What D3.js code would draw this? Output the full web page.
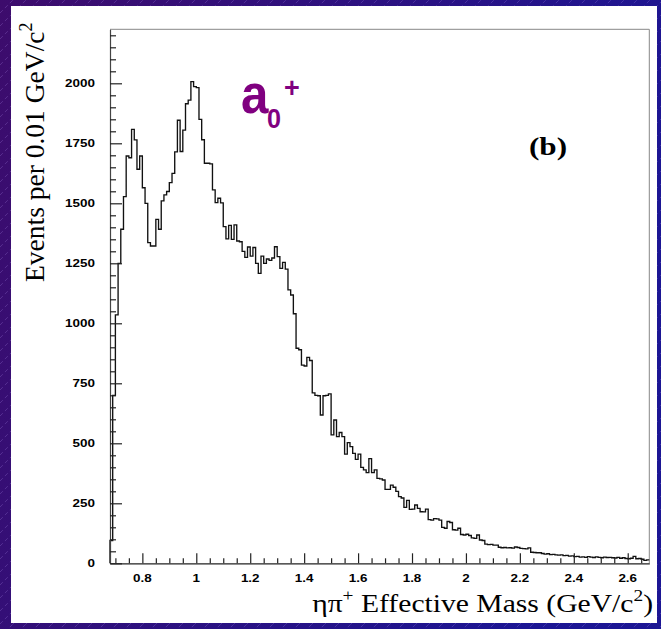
<!DOCTYPE html>
<html><head><meta charset="utf-8">
<script src="https://cdn.jsdelivr.net/npm/d3@7"></script>
<style>html,body{margin:0;padding:0;background:#2a1080;}svg{display:block;}</style>
</head><body>
<svg id="chart" width="661" height="629"></svg>
<script>
// ---- data ----
const binStart = 0.68;      // GeV/c^2, low edge of first bin
const binWidth = 0.01;      // GeV/c^2
const counts = [
  95, 700, 1035, 1250, 1392, 1528, 1697, 1690, 1808, 1764,
  1642, 1697, 1565, 1500, 1336, 1322, 1322, 1433, 1392, 1510,
  1535, 1549, 1586, 1625, 1714, 1846, 1716, 1805, 1915, 1930,
  2007, 1986, 1982, 1850, 1765, 1667, 1667, 1664, 1556, 1503,
  1521, 1502, 1403, 1352, 1408, 1350, 1410, 1343, 1340, 1300,
  1275, 1318, 1280, 1316, 1250, 1208, 1280, 1250, 1268, 1262,
  1272, 1319, 1278, 1229, 1254, 1226, 1139, 1118, 1040, 896,
  890, 826, 822, 858, 845, 710, 700, 698, 618, 698,
  700, 706, 535, 597, 528, 545, 528, 455, 503, 486,
  458, 433, 455, 400, 389, 378, 436, 378, 389, 354,
  352, 347, 308, 308, 326, 317, 300, 278, 272, 233,
  262, 225, 226, 243, 229, 215, 214, 226, 182, 180,
  186, 185, 180, 150, 146, 174, 170, 140, 138, 146,
  120, 118, 121, 116, 106, 104, 118, 97, 95, 80,
  78, 79, 76, 76, 67, 65, 66, 64, 65, 63,
  68, 66, 62, 61, 60, 64, 46, 45, 44, 44,
  41, 38, 40, 36, 37, 35, 34, 35, 32, 33,
  30, 31, 28, 29, 26, 27, 25, 28, 26, 24,
  27, 25, 23, 26, 24, 25, 23, 22, 25, 21,
  23, 20, 19, 21, 29, 19, 20, 17, 12, 14
];
const xMajorTicks = [0.8, 1.0, 1.2, 1.4, 1.6, 1.8, 2.0, 2.2, 2.4, 2.6];
const xTickLabels = ["0.8", "1", "1.2", "1.4", "1.6", "1.8", "2", "2.2", "2.4", "2.6"];
const yMajorTicks = [0, 250, 500, 750, 1000, 1250, 1500, 1750, 2000];
const yTickLabels = ["0", "250", "500", "750", "1000", "1250", "1500", "1750", "2000"];
const xDomain = [0.68, 2.68];
const yDomain = [0, 2225];

// ---- drawing ----
(function () {
const svg = d3.select("#chart");
const W = 661, H = 629;
const defs = svg.append("defs");
const grad = defs.append("linearGradient").attr("id", "bg").attr("x1", "0").attr("y1", "0").attr("x2", "1").attr("y2", "0.3");
grad.append("stop").attr("offset", "0").attr("stop-color", "#3d0c6c");
grad.append("stop").attr("offset", "1").attr("stop-color", "#1c1694");
const pat = defs.append("pattern").attr("id", "stripes").attr("patternUnits", "userSpaceOnUse")
  .attr("width", 13).attr("height", 13);
pat.append("path").attr("d", "M0,13 L13,0").attr("stroke", "rgba(190,160,255,0.28)")
  .attr("stroke-width", 0.8).attr("stroke-dasharray", "4,3");

svg.append("rect").attr("width", W).attr("height", H).attr("fill", "url(#bg)");
svg.append("rect").attr("width", W).attr("height", H).attr("fill", "url(#stripes)");
svg.append("rect").attr("x", 11).attr("y", 6).attr("width", 646).attr("height", 617).attr("fill", "#ffffff");

const pL = 110, pR = 649.3, pT = 29.3, pB = 563.3;
const x = d3.scaleLinear().domain(xDomain).range([pL, pR]);
const y = d3.scaleLinear().domain(yDomain).range([pB, pT]);

// frame
svg.append("line").attr("x1", pL).attr("x2", pR).attr("y1", pT).attr("y2", pT).attr("stroke", "#888").attr("stroke-width", 1);
svg.append("line").attr("x1", pR).attr("x2", pR).attr("y1", pT).attr("y2", pB).attr("stroke", "#888").attr("stroke-width", 1);

// histogram as step line
const pts = [[x(binStart), y(0)]];
counts.forEach((c, i) => {
  const e0 = binStart + i * binWidth, e1 = binStart + (i + 1) * binWidth;
  pts.push([x(e0), y(c)]);
  pts.push([x(e1), y(c)]);
});
svg.append("path").attr("d", d3.line()(pts)).attr("fill", "none")
  .attr("stroke", "#111").attr("stroke-width", 1.35).attr("stroke-linejoin", "miter");

// y axis (ticks inward)
const yMinor = d3.range(0, 2201, 50);
const yAxis = d3.axisRight(y).tickValues(yMinor).tickSize(0).tickFormat("");
const gy = svg.append("g").attr("transform", `translate(${pL},0)`).call(yAxis);
gy.select(".domain").attr("stroke", "#444").attr("stroke-width", 1.2);
gy.selectAll(".tick").append("line")
  .attr("x2", d => yMajorTicks.includes(d) ? 12 : 6).attr("stroke", "#222").attr("stroke-width", 1.2);

// x axis (ticks inward)
const xMinor = d3.range(0, 40).map(i => 0.70 + i * 0.05).filter(v => v < 2.678);
const xAxis = d3.axisTop(x).tickValues(xMinor).tickSize(0).tickFormat("");
const gx = svg.append("g").attr("transform", `translate(0,${pB})`).call(xAxis);
gx.select(".domain").attr("stroke", "#222").attr("stroke-width", 1.2);
gx.selectAll(".tick").append("line")
  .attr("y2", d => xMajorTicks.some(m => Math.abs(m - d) < 1e-6) ? -10 : -5).attr("stroke", "#222").attr("stroke-width", 1.2);

// tick labels
const lblFont = "'Liberation Sans', Arial, sans-serif";
yMajorTicks.forEach((v, i) => {
  svg.append("g").attr("transform", `translate(95,${y(v) + 3.8})`)
    .append("text").attr("transform", "scale(1.28,1)").attr("text-anchor", "end")
    .attr("font-family", lblFont).attr("font-weight", "bold").attr("font-size", 10.5)
    .attr("fill", "#000").text(yTickLabels[i]);
});
xMajorTicks.forEach((v, i) => {
  svg.append("g").attr("transform", `translate(${x(v)},581.5)`)
    .append("text").attr("transform", "scale(1.28,1)").attr("text-anchor", "middle")
    .attr("font-family", lblFont).attr("font-weight", "bold").attr("font-size", 10.5)
    .attr("fill", "#000").text(xTickLabels[i]);
});

// axis titles
const serif = "'Liberation Serif', 'Times New Roman', serif";
const xt = svg.append("g").attr("transform", "translate(653,612)").append("text")
  .attr("transform", "scale(1.14,1)").attr("text-anchor", "end")
  .attr("font-family", serif).attr("font-size", 26).attr("fill", "#000");
xt.append("tspan").text("ηπ");
xt.append("tspan").attr("dy", -11).attr("font-size", 17).text("+");
xt.append("tspan").attr("dy", 11).text(" Effective Mass (GeV/c");
xt.append("tspan").attr("dy", -11).attr("font-size", 17).text("2");
xt.append("tspan").attr("dy", 11).text(")");

const yt = svg.append("text").attr("transform", "translate(44,282) rotate(-90)").attr("text-anchor", "start")
  .attr("font-family", serif).attr("font-size", 27.5).attr("fill", "#000");
yt.append("tspan").text("Events per 0.01 GeV/c");
yt.append("tspan").attr("dy", -12).attr("font-size", 18).text("2");

// panel label
svg.append("g").attr("transform", "translate(548,155)").append("text")
  .attr("transform", "scale(1.2,1)").attr("text-anchor", "middle")
  .attr("font-family", serif).attr("font-weight", "bold").attr("font-size", 26).attr("fill", "#000").text("(b)");

// a0+ annotation
const purple = "#800080";
svg.append("g").attr("transform", "translate(241,113)").append("text").attr("transform", "scale(0.88,1)")
  .attr("font-family", lblFont).attr("font-weight", "bold").attr("font-size", 56).attr("fill", purple).text("a");
svg.append("g").attr("transform", "translate(267,128)").append("text").attr("transform", "scale(0.9,1)")
  .attr("font-family", lblFont).attr("font-weight", "bold").attr("font-size", 28).attr("fill", purple).text("0");
svg.append("g").attr("transform", "translate(284,97)").append("text")
  .attr("font-family", lblFont).attr("font-weight", "bold").attr("font-size", 27).attr("fill", purple).text("+");
})();
</script>
</body></html>
